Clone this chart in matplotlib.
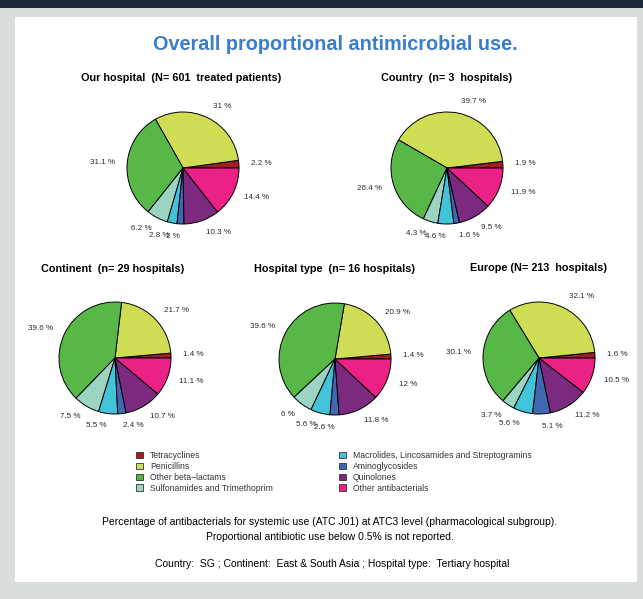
import matplotlib.pyplot as plt
from matplotlib.patches import Patch, Rectangle

plt.rcParams['font.family'] = ['Liberation Sans', 'DejaVu Sans']

W, H, DPI = 643, 599, 100

# ATC3 groups, in the order the slices are drawn (counter-clockwise from 3 o'clock)
classes = ["Tetracyclines", "Penicillins", "Other beta\u2212lactams",
           "Sulfonamides and Trimethoprim",
           "Macrolides, Lincosamides and Streptogramins", "Aminoglycosides",
           "Quinolones", "Other antibacterials"]
colors = ["#a51d24", "#cfdd55", "#57b848", "#9bd4c2",
          "#41c3da", "#4168b3", "#7b2a80", "#ec2186"]

our_hospital = [2.2, 31, 31.1, 6.2, 2.8, 2, 10.3, 14.4]
country = [1.9, 39.7, 26.4, 4.3, 4.6, 1.6, 9.5, 11.9]
continent = [1.4, 21.7, 39.6, 7.5, 5.5, 2.4, 10.7, 11.1]
hospital_type = [1.4, 20.9, 39.6, 6, 5.6, 2.6, 11.8, 12]
europe = [1.6, 32.1, 30.1, 3.7, 5.6, 5.1, 11.2, 10.5]

titles = ["Our hospital  (N= 601  treated patients)",
          "Country  (n= 3  hospitals)",
          "Continent  (n= 29 hospitals)",
          "Hospital type  (n= 16 hospitals)",
          "Europe (N= 213  hospitals)"]
series = [our_hospital, country, continent, hospital_type, europe]


def fx(x):
    return x / W


def fy(y):
    return 1 - y / H


fig = plt.figure(figsize=(W / DPI, H / DPI), dpi=DPI, facecolor="#d8dede")

# dark band on top and white card (behind everything)
fig.patches.append(Rectangle((0, fy(8)), 1, 8 / H, transform=fig.transFigure,
                             facecolor="#1a2a3c", edgecolor="none", zorder=-5))
fig.patches.append(Rectangle((fx(15), fy(582)), (637 - 15) / W, (582 - 17) / H,
                             transform=fig.transFigure, facecolor="white",
                             edgecolor="none", zorder=-5))

fig.text(fx(335), fy(45), "Overall proportional antimicrobial use.",
         ha="center", va="center", fontsize=14.3, fontweight="bold", color="#3b7dc8")

# pie centre (px), title position (px)
layout = [(183, 168, 181, 78), (447, 168, 447, 78),
          (115, 358, 113, 269), (335, 359, 335, 269), (539, 358, 538, 268)]
R = 56      # pie radius in px
side = 220  # axes size in px
lim = side / 2 / R

for (cx, cy, tx, ty), title, vals in zip(layout, titles, series):
    ax = fig.add_axes([fx(cx - side / 2), fy(cy + side / 2), side / W, side / H])
    ax.pie(vals, colors=colors, startangle=0, counterclock=True,
           labels=[f"{v:g} %" for v in vals], labeldistance=1.22,
           wedgeprops=dict(edgecolor="black", linewidth=0.7),
           textprops=dict(fontsize=5.8, color="#2a2a2a"))
    ax.set_xlim(-lim, lim)
    ax.set_ylim(-lim, lim)
    ax.axis("off")
    fig.text(fx(tx), fy(ty), title, ha="center", va="center",
             fontsize=7.8, fontweight="bold")

handles = [Patch(facecolor=c, edgecolor="#333333", linewidth=0.6) for c in colors]
leg_kw = dict(frameon=False, fontsize=6.2, handlelength=0.8, handleheight=0.8,
              handletextpad=0.8, labelspacing=0.22, borderaxespad=0, borderpad=0,
              labelcolor="#333333")
fig.legend(handles[:4], classes[:4], loc="upper left",
           bbox_to_anchor=(fx(136), fy(451)), **leg_kw)
fig.legend(handles[4:], classes[4:], loc="upper left",
           bbox_to_anchor=(fx(339), fy(451)), **leg_kw)

fig.text(fx(330), fy(522),
         "Percentage of antibacterials for systemic use (ATC J01) at ATC3 level (pharmacological subgroup).",
         ha="center", va="center", fontsize=7.5)
fig.text(fx(330), fy(537), "Proportional antibiotic use below 0.5% is not reported.",
         ha="center", va="center", fontsize=7.5)
fig.text(fx(332), fy(564),
         "Country:  SG ; Continent:  East & South Asia ; Hospital type:  Tertiary hospital",
         ha="center", va="center", fontsize=7.5)

fig.savefig("out.png", dpi=DPI, facecolor=fig.get_facecolor())
